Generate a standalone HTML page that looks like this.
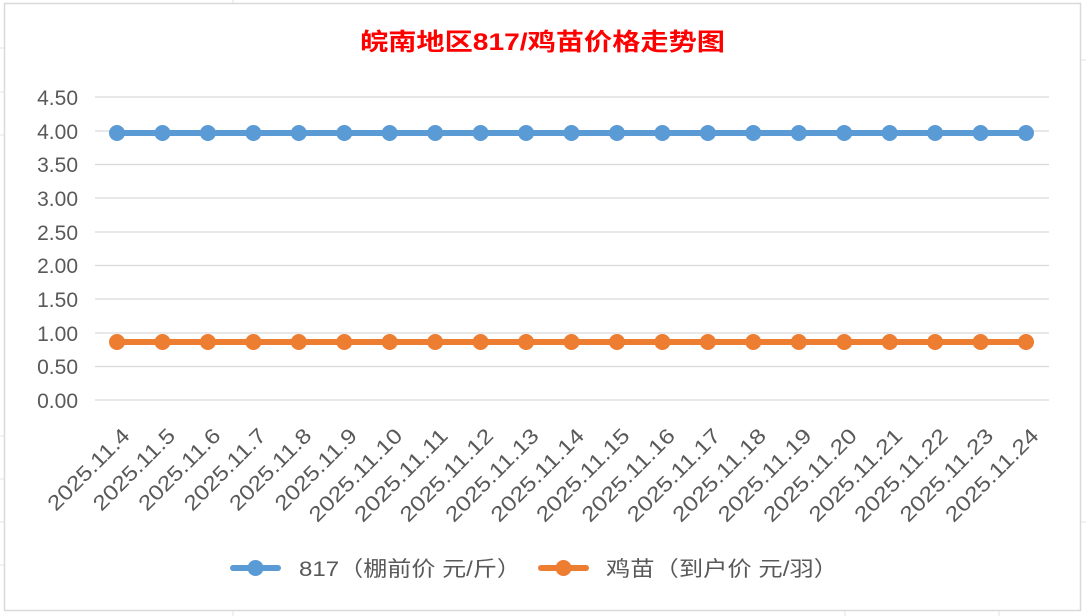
<!DOCTYPE html>
<html><head><meta charset="utf-8"><style>
html,body{margin:0;padding:0;background:#fff;}
svg{display:block;}
text{font-family:"Liberation Sans","Noto Sans CJK SC",sans-serif;}
</style></head><body>
<svg width="1086" height="616" viewBox="0 0 1086 616" xmlns="http://www.w3.org/2000/svg">
<rect x="0" y="0" width="1086" height="616" fill="#fff"/>
<g stroke="#e3e3e3" stroke-width="1">
<line x1="0" y1="48" x2="4" y2="48"/><line x1="0" y1="92" x2="4" y2="92"/><line x1="0" y1="135" x2="4" y2="135"/>
<line x1="0" y1="436" x2="4" y2="436"/><line x1="0" y1="479" x2="4" y2="479"/><line x1="0" y1="522" x2="4" y2="522"/><line x1="0" y1="565" x2="4" y2="565"/>
<line x1="233" y1="610" x2="233" y2="616"/><line x1="845" y1="610" x2="845" y2="616"/><line x1="999" y1="610" x2="999" y2="616"/>
<line x1="233" y1="0" x2="233" y2="3"/>
<line x1="1081" y1="60" x2="1086" y2="60"/><line x1="1081" y1="522" x2="1086" y2="522"/>
</g>
<rect x="4.5" y="3.5" width="1076" height="607" fill="#fff" stroke="#d9d9d9" stroke-width="1.5"/>
<text x="360" y="50" font-size="24" font-weight="bold" fill="#ff0000" textLength="365" lengthAdjust="spacingAndGlyphs">皖南地区817/鸡苗价格走势图</text>
<g stroke="#d9d9d9" stroke-width="1.3">
<line x1="95" y1="97" x2="1049" y2="97"/><line x1="95" y1="131" x2="1049" y2="131"/><line x1="95" y1="164.5" x2="1049" y2="164.5"/>
<line x1="95" y1="198" x2="1049" y2="198"/><line x1="95" y1="232" x2="1049" y2="232"/><line x1="95" y1="265.5" x2="1049" y2="265.5"/>
<line x1="95" y1="299" x2="1049" y2="299"/><line x1="95" y1="333" x2="1049" y2="333"/><line x1="95" y1="366.5" x2="1049" y2="366.5"/>
<line x1="95" y1="400" x2="1049" y2="400"/>
</g>
<g font-size="21" fill="#595959" text-anchor="end">
<text x="78" y="105">4.50</text><text x="78" y="139">4.00</text><text x="78" y="172">3.50</text>
<text x="78" y="206">3.00</text><text x="78" y="240">2.50</text><text x="78" y="273">2.00</text>
<text x="78" y="307">1.50</text><text x="78" y="341">1.00</text><text x="78" y="374">0.50</text>
<text x="78" y="408">0.00</text>
</g>
<polyline points="117,133 1026,133" stroke="#5b9bd5" stroke-width="6" fill="none" stroke-linecap="round"/>
<polyline points="117,342 1026,342" stroke="#ed7d31" stroke-width="6" fill="none" stroke-linecap="round"/>
<g fill="#5b9bd5">
<circle cx="117" cy="133" r="8"/><circle cx="162.5" cy="133" r="8"/><circle cx="207.9" cy="133" r="8"/><circle cx="253.4" cy="133" r="8"/><circle cx="298.8" cy="133" r="8"/><circle cx="344.3" cy="133" r="8"/><circle cx="389.7" cy="133" r="8"/><circle cx="435.2" cy="133" r="8"/><circle cx="480.6" cy="133" r="8"/><circle cx="526.1" cy="133" r="8"/><circle cx="571.5" cy="133" r="8"/><circle cx="617" cy="133" r="8"/><circle cx="662.4" cy="133" r="8"/><circle cx="707.9" cy="133" r="8"/><circle cx="753.3" cy="133" r="8"/><circle cx="798.8" cy="133" r="8"/><circle cx="844.2" cy="133" r="8"/><circle cx="889.7" cy="133" r="8"/><circle cx="935.1" cy="133" r="8"/><circle cx="980.6" cy="133" r="8"/><circle cx="1026" cy="133" r="8"/>
</g>
<g fill="#ed7d31">
<circle cx="117" cy="342" r="8"/><circle cx="162.5" cy="342" r="8"/><circle cx="207.9" cy="342" r="8"/><circle cx="253.4" cy="342" r="8"/><circle cx="298.8" cy="342" r="8"/><circle cx="344.3" cy="342" r="8"/><circle cx="389.7" cy="342" r="8"/><circle cx="435.2" cy="342" r="8"/><circle cx="480.6" cy="342" r="8"/><circle cx="526.1" cy="342" r="8"/><circle cx="571.5" cy="342" r="8"/><circle cx="617" cy="342" r="8"/><circle cx="662.4" cy="342" r="8"/><circle cx="707.9" cy="342" r="8"/><circle cx="753.3" cy="342" r="8"/><circle cx="798.8" cy="342" r="8"/><circle cx="844.2" cy="342" r="8"/><circle cx="889.7" cy="342" r="8"/><circle cx="935.1" cy="342" r="8"/><circle cx="980.6" cy="342" r="8"/><circle cx="1026" cy="342" r="8"/>
</g>
<g font-size="21" fill="#595959" text-anchor="end">
<text transform="translate(131,437) rotate(-45)" textLength="106" lengthAdjust="spacingAndGlyphs">2025.11.4</text>
<text transform="translate(176.5,437) rotate(-45)" textLength="106" lengthAdjust="spacingAndGlyphs">2025.11.5</text>
<text transform="translate(221.9,437) rotate(-45)" textLength="106" lengthAdjust="spacingAndGlyphs">2025.11.6</text>
<text transform="translate(267.4,437) rotate(-45)" textLength="106" lengthAdjust="spacingAndGlyphs">2025.11.7</text>
<text transform="translate(312.8,437) rotate(-45)" textLength="106" lengthAdjust="spacingAndGlyphs">2025.11.8</text>
<text transform="translate(358.3,437) rotate(-45)" textLength="106" lengthAdjust="spacingAndGlyphs">2025.11.9</text>
<text transform="translate(403.7,437) rotate(-45)" textLength="122" lengthAdjust="spacingAndGlyphs">2025.11.10</text>
<text transform="translate(449.2,437) rotate(-45)" textLength="122" lengthAdjust="spacingAndGlyphs">2025.11.11</text>
<text transform="translate(494.6,437) rotate(-45)" textLength="122" lengthAdjust="spacingAndGlyphs">2025.11.12</text>
<text transform="translate(540.1,437) rotate(-45)" textLength="122" lengthAdjust="spacingAndGlyphs">2025.11.13</text>
<text transform="translate(585.5,437) rotate(-45)" textLength="122" lengthAdjust="spacingAndGlyphs">2025.11.14</text>
<text transform="translate(631,437) rotate(-45)" textLength="122" lengthAdjust="spacingAndGlyphs">2025.11.15</text>
<text transform="translate(676.4,437) rotate(-45)" textLength="122" lengthAdjust="spacingAndGlyphs">2025.11.16</text>
<text transform="translate(721.9,437) rotate(-45)" textLength="122" lengthAdjust="spacingAndGlyphs">2025.11.17</text>
<text transform="translate(767.3,437) rotate(-45)" textLength="122" lengthAdjust="spacingAndGlyphs">2025.11.18</text>
<text transform="translate(812.8,437) rotate(-45)" textLength="122" lengthAdjust="spacingAndGlyphs">2025.11.19</text>
<text transform="translate(858.2,437) rotate(-45)" textLength="122" lengthAdjust="spacingAndGlyphs">2025.11.20</text>
<text transform="translate(903.7,437) rotate(-45)" textLength="122" lengthAdjust="spacingAndGlyphs">2025.11.21</text>
<text transform="translate(949.1,437) rotate(-45)" textLength="122" lengthAdjust="spacingAndGlyphs">2025.11.22</text>
<text transform="translate(994.6,437) rotate(-45)" textLength="122" lengthAdjust="spacingAndGlyphs">2025.11.23</text>
<text transform="translate(1040,437) rotate(-45)" textLength="122" lengthAdjust="spacingAndGlyphs">2025.11.24</text>
</g>
<line x1="233" y1="568" x2="278" y2="568" stroke="#5b9bd5" stroke-width="6" stroke-linecap="round"/>
<circle cx="255.5" cy="568" r="8" fill="#5b9bd5"/>
<text x="299" y="576" font-size="21" fill="#595959" textLength="222" lengthAdjust="spacingAndGlyphs">817（棚前价 元/斤）</text>
<line x1="541" y1="568" x2="586" y2="568" stroke="#ed7d31" stroke-width="6" stroke-linecap="round"/>
<circle cx="563.5" cy="568" r="8" fill="#ed7d31"/>
<text x="606" y="576" font-size="21" fill="#595959" textLength="232" lengthAdjust="spacingAndGlyphs">鸡苗（到户价 元/羽）</text>
</svg>
</body></html>
